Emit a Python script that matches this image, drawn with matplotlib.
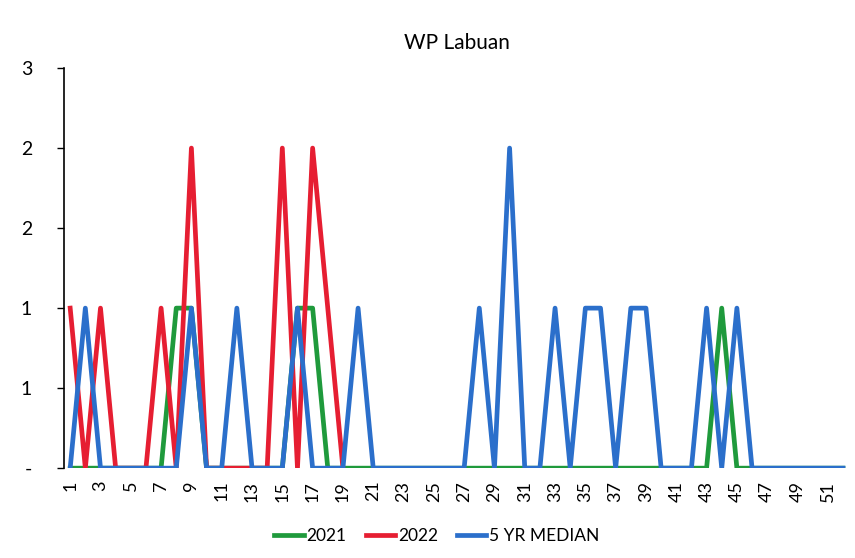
import numpy as np
import matplotlib.pyplot as plt
import matplotlib.ticker as mticker

plt.rcParams['font.family'] = ['Lato', 'DejaVu Sans']

# data (epi weeks 1..52)
weeks = np.arange(1, 53)
cases_2021 = [0, 0, 0, 0, 0, 0, 0, 1, 1, 0, 0, 0, 0, 0, 0, 1, 1, 0, 0, 0,
              0, 0, 0, 0, 0, 0, 0, 0, 0, 0, 0, 0, 0, 0, 0, 0, 0, 0, 0, 0,
              0, 0, 0, 1, 0, 0, 0, 0, 0, 0, 0, 0]
cases_2022 = [1, 0, 1, 0, 0, 0, 1, 0, 2, 0, 0, 0, 0, 0, 2, 0, 2, 1, 0]
median_5yr = [0, 1, 0, 0, 0, 0, 0, 0, 1, 0, 0, 1, 0, 0, 0, 1, 0, 0, 0, 1,
              0, 0, 0, 0, 0, 0, 0, 1, 0, 2, 0, 0, 1, 0, 1, 1, 0, 1, 1, 0,
              0, 0, 1, 0, 1, 0, 0, 0, 0, 0, 0, 0]

y_ticks = [0, 0.5, 1.0, 1.5, 2.0, 2.5]

c2021 = '#1f9a3c'
c2022 = '#e61e32'
cmed = '#2b6fcb'

fig = plt.figure(figsize=(8.55, 5.58), dpi=100)
ax = fig.add_axes([0.075, 0.161, 0.918, 0.717])

ax.plot(weeks, cases_2021, color=c2021, lw=3.4, label='2021')
ax.plot(weeks[:len(cases_2022)], cases_2022, color=c2022, lw=3.4, label='2022')
ax.plot(weeks, median_5yr, color=cmed, lw=3.4, label='5 YR MEDIAN')

ax.set_xlim(0.6, 52.4)
ax.set_ylim(0, 2.5)
ax.set_xticks(weeks[::2])
ax.set_xticklabels([str(w) for w in weeks[::2]], rotation=90, fontsize=13)
ax.tick_params(axis='x', length=0, pad=9)

# excel style: 0 shown as "-", others rounded to whole numbers
def fmt(v, pos):
    if v == 0:
        return '-'
    return '%d' % int(np.floor(v + 0.5))

ax.set_yticks(y_ticks)
ax.yaxis.set_major_formatter(mticker.FuncFormatter(fmt))
ax.tick_params(axis='y', length=5, width=1, pad=18, labelsize=14)

for s in ['top', 'right', 'bottom']:
    ax.spines[s].set_visible(False)
ax.spines['left'].set_linewidth(1.2)

ax.set_title('WP Labuan', fontsize=15, pad=14)

fig.legend(loc='center', bbox_to_anchor=(0.511, 0.04), ncol=3, frameon=False,
           fontsize=12.5, handlelength=1.7, handletextpad=0.15, columnspacing=1.1)

fig.savefig('out.png', dpi=100)
